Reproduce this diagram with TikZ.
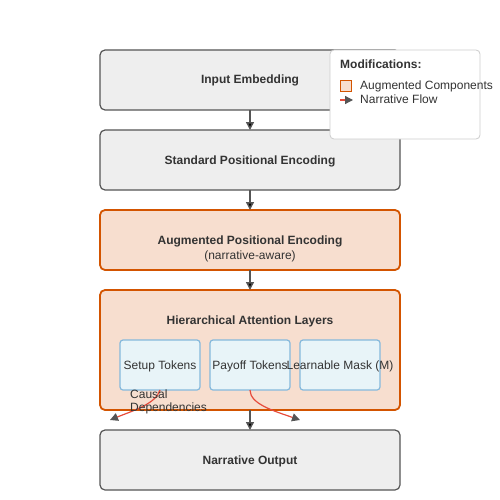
\documentclass[tikz,border=0pt]{standalone}
\usepackage{fontspec}
\setmainfont{Liberation Sans}
\usetikzlibrary{arrows.meta,positioning}

\definecolor{edgegrey}{HTML}{555555}
\definecolor{plainfill}{HTML}{EEEEEE}
\definecolor{augline}{HTML}{D35400}
\definecolor{augfill}{HTML}{F7DECF}
\definecolor{tokline}{HTML}{85B9DC}
\definecolor{tokfill}{HTML}{E8F4F8}
\definecolor{causalred}{HTML}{E74C3C}
\definecolor{legline}{HTML}{CCCCCC}
\definecolor{ink}{HTML}{333333}

\begin{document}
\begin{tikzpicture}[x=1pt,y=-1pt,node distance=20pt,font=\fontsize{12}{13}\selectfont,text=ink,
  txt/.style={text height=8pt,text depth=0pt},
  box/.style={txt,draw=edgegrey,fill=plainfill,line width=1.2pt,rounded corners=5pt,outer sep=0pt,
    minimum width=300pt,minimum height=60pt,font=\fontsize{12}{13}\selectfont\bfseries},
  augbox/.style={box,draw=augline,fill=augfill,line width=1.8pt},
  tok/.style={draw=tokline,fill=tokfill,line width=1.2pt,rounded corners=3pt,outer sep=0pt,
    minimum width=80pt,minimum height=50pt},
  every label/.style={txt},
  flow/.style={-{Triangle[length=8pt,width=8pt]},draw=edgegrey,line width=1.5pt},
  causal/.style={-{Triangle[length=8pt,width=8pt,color=edgegrey]},draw=causalred,line width=1.2pt}]
%\tikzstyle{every node}=[font=\bfseries]
  \useasboundingbox (0,0) rectangle (500,500);

  \node[box]    (in)   at (250,80)    {Input Embedding};
  \node[box]    (std)  [below=of in]  {Standard Positional Encoding};
  \node[augbox] (aug)  [below=of std] {Augmented Positional Encoding};
  \node[augbox,minimum height=120pt] (hier) [below=of aug] {};
  \node[box]    (out)  [below=of hier] {Narrative Output};

  \node[txt] (augsub) at ([yshift=-15pt]aug.center) {(narrative-aware)};
  \node[txt,font=\fontsize{12}{13}\selectfont\bfseries] (hiertitle) at ([yshift=-30pt]hier.north)
    {Hierarchical Attention Layers};

  \node[tok,label=center:Setup Tokens]       (setup)  at (160,365)          {};
  \node[tok,label=center:Payoff Tokens]      (payoff) [right=10pt of setup] {};
  \node[tok,label=center:Learnable Mask (M)] (mask)   [right=10pt of payoff] {};

  \path[flow] (in) edge (std)
              (std) edge (aug)
              (aug) edge (hier)
              (hier) edge (out);

  \coordinate (cdleft)  at (110,420);
  \coordinate (cdright) at (300,420);
  \draw[causal] (setup.south) .. controls (156,404) and (132,411) .. (cdleft);
  \draw[causal] (payoff.south) .. controls (250,404) and (274,411) .. (cdright);
  \node[align=left,anchor=west,inner sep=0pt] (cdtext) at (130,402) {Causal\\Dependencies};

  % legend
  \node[draw=legline,fill=white,line width=0.8pt,rounded corners=4pt,
    minimum width=150pt,minimum height=89pt] (legend) at (405,94.5) {};
  \node[txt,anchor=west,inner sep=0pt,font=\fontsize{12}{13}\selectfont\bfseries] (legtitle) at (340,65) {Modifications:};
  \node[draw=augline,fill=augfill,line width=1.5pt,minimum size=11pt,inner sep=0pt] (legsq) at (346,86) {};
  \node[txt,anchor=west,inner sep=0pt] (legaug) at (360,86) {Augmented Components};
  \coordinate (lga) at (340,100);
  \coordinate (lgb) at (353,100);
  \draw[draw=causalred,line width=1.2pt,-{Triangle[length=8pt,width=8pt,color=edgegrey]}] (lga) -- (lgb);
  \node[txt,anchor=west,inner sep=0pt] (legflow) at (360,100) {Narrative Flow};
\end{tikzpicture}
\end{document}
